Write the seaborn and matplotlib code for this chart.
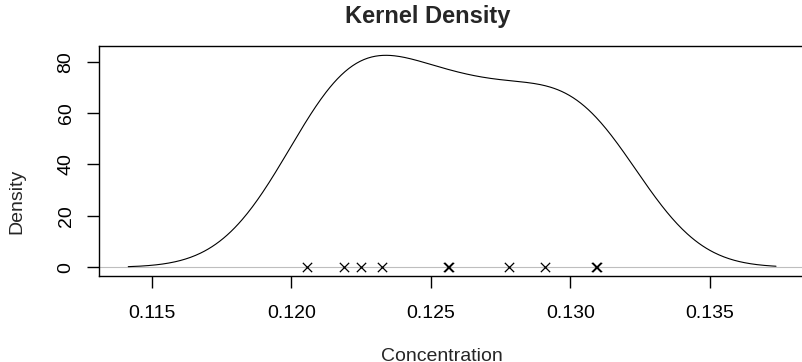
import numpy as np
import pandas as pd
import matplotlib
matplotlib.use("Agg")
import matplotlib.pyplot as plt
import seaborn as sns

# concentrations (two pairs sit on top of each other)
concentration = [0.12057, 0.12188, 0.12248, 0.12326, 0.12561, 0.12565,
                 0.12778, 0.12907, 0.13091, 0.13095]
x_ticks = [0.115, 0.120, 0.125, 0.130, 0.135]
x_tick_labels = ["0.115", "0.120", "0.125", "0.130", "0.135"]
y_ticks = [0, 20, 40, 60, 80]

df = pd.DataFrame({"Concentration": concentration})

# R's bw.nrd0 rule, turned into a factor of the sample sd for seaborn
sd = df["Concentration"].std()
q1, q3 = df["Concentration"].quantile([0.25, 0.75])
bw = 0.9 * min(sd, (q3 - q1) / 1.34) * len(df) ** -0.2
bw_factor = bw / sd

sns.set_style("ticks")
plt.rcParams['font.family'] = ['Liberation Sans', 'DejaVu Sans']

fig = plt.figure(figsize=(8.02, 3.62), dpi=100)
ax = fig.add_axes([99 / 802, 1 - 276 / 362, (810 - 99) / 802, (276 - 46) / 362])

# zero line like R's density plot
ax.axhline(0, color='#BEBEBE', linewidth=0.8, zorder=1)
sns.kdeplot(data=df, x="Concentration", bw_method=bw_factor, cut=3, gridsize=512,
            color='black', linewidth=0.8, ax=ax)
sns.scatterplot(x=concentration, y=np.zeros(len(concentration)), marker='x',
                color='black', s=45, linewidth=0.9, ax=ax, zorder=3)

ax.set_xlim(0.11311, 0.13858)
ax.set_ylim(-3.39, 86.1)
ax.set_xticks(x_ticks, labels=x_tick_labels)
ax.set_yticks(y_ticks)
ax.set_xlabel('')
ax.set_ylabel('')

for side in ['left', 'right', 'top', 'bottom']:
    ax.spines[side].set_visible(True)
    ax.spines[side].set_color('black')
    ax.spines[side].set_linewidth(1.0)

ax.tick_params(axis='both', direction='out', length=8.6, width=1.0, color='black',
               labelsize=14, labelcolor='black', bottom=True, left=True)
ax.tick_params(axis='x', pad=12)
ax.tick_params(axis='y', pad=9, labelrotation=90)
for lab in ax.get_yticklabels():
    lab.set_va('center')

fig.text(428 / 802, 1 - 17 / 362, "Kernel Density", ha='center', va='center',
         fontsize=17, fontweight='bold')
fig.text(441.5 / 802, 0.002, "Concentration", ha='center', va='baseline', fontsize=14)
fig.text(17 / 802, 161 / 362, "Density", rotation=90, ha='center', va='center', fontsize=14)

fig.savefig('out.png', dpi=100)
plt.close(fig)
